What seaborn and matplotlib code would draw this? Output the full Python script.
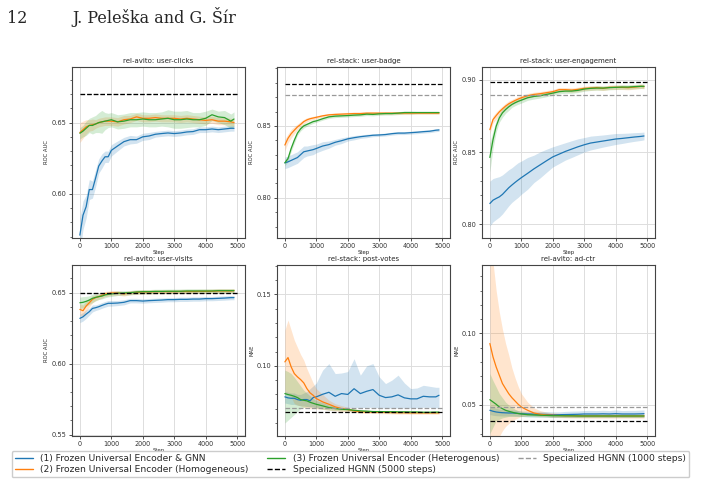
import numpy as np
import pandas as pd
import seaborn as sns
import matplotlib
matplotlib.use("Agg")
import matplotlib.pyplot as plt
from matplotlib.ticker import MultipleLocator, AutoMinorLocator
from matplotlib.lines import Line2D

# ---------------- data ----------------
STEPS = [0, 100, 200, 300, 400, 500, 600, 700, 800, 900, 1000, 1200, 1400, 1600, 1800,
         2000, 2200, 2400, 2600, 2800, 3000, 3200, 3400, 3600, 3800, 4000, 4200, 4400,
         4600, 4800, 4900]

SERIES = ["(1) Frozen Universal Encoder & GNN",
          "(2) Frozen Universal Encoder (Homogeneous)",
          "(3) Frozen Universal Encoder (Heterogenous)"]
REF_LABELS = ["Specialized HGNN (5000 steps)", "Specialized HGNN (1000 steps)"]
TITLES = ["rel-avito: user-clicks", "rel-stack: user-badge", "rel-stack: user-engagement",
          "rel-avito: user-visits", "rel-stack: post-votes", "rel-avito: ad-ctr"]
YLABELS = ["ROC AUC", "ROC AUC", "ROC AUC", "ROC AUC", "MAE", "MAE"]

# reference levels: (5000 steps, 1000 steps)
REF_5000 = [0.670, 0.879, 0.8984, 0.6495, 0.0678, 0.0390]
REF_1000 = [0.670, 0.8715, 0.8898, 0.6495, 0.0708, 0.0484]
YLIMS = [(0.569, 0.689), (0.772, 0.891), (0.7905, 0.909),
         (0.549, 0.6695), (0.0509, 0.1706), (0.0283, 0.1479)]

# rel-avito: user-clicks
clicks_gnn = [0.571, 0.585, 0.591, 0.603, 0.603, 0.611, 0.6195, 0.623, 0.626, 0.626, 0.6305,
              0.6336, 0.6366, 0.638, 0.638, 0.640, 0.6406, 0.6418, 0.6423, 0.6427, 0.6423,
              0.6427, 0.6434, 0.6437, 0.645, 0.645, 0.6455, 0.645, 0.6455, 0.646, 0.646]
clicks_gnn_err = [0.012, 0.010, 0.008, 0.007, 0.006, 0.006, 0.005, 0.005, 0.004, 0.004, 0.004,
                  0.0035, 0.003, 0.003, 0.0025, 0.0025, 0.0025, 0.002, 0.002, 0.002, 0.002,
                  0.002, 0.002, 0.002, 0.002, 0.002, 0.002, 0.002, 0.002, 0.002, 0.002]
clicks_hom = [0.643, 0.645, 0.647, 0.648, 0.6485, 0.649, 0.650, 0.6505, 0.651, 0.651, 0.651,
              0.6505, 0.652, 0.6525, 0.654, 0.653, 0.653, 0.6535, 0.653, 0.653, 0.653,
              0.6525, 0.653, 0.6525, 0.652, 0.6515, 0.652, 0.651, 0.651, 0.6505, 0.650]
clicks_hom_err = [0.007, 0.006, 0.005, 0.004, 0.004, 0.003, 0.003, 0.003, 0.003, 0.003, 0.003,
                  0.003, 0.003, 0.0025, 0.0025, 0.0025, 0.0025, 0.0025, 0.0025, 0.0025, 0.0025,
                  0.0025, 0.0025, 0.0025, 0.0025, 0.0025, 0.0025, 0.0025, 0.0025, 0.0025, 0.0025]
clicks_het = [0.6425, 0.644, 0.646, 0.648, 0.648, 0.649, 0.650, 0.6505, 0.651, 0.6515, 0.652,
              0.6505, 0.651, 0.652, 0.652, 0.6525, 0.652, 0.652, 0.6525, 0.653, 0.652,
              0.652, 0.6525, 0.652, 0.652, 0.653, 0.6555, 0.654, 0.6535, 0.651, 0.6525]
clicks_het_err = [0.004, 0.004, 0.005, 0.005, 0.006, 0.006, 0.007, 0.008, 0.006, 0.005, 0.005,
                  0.005, 0.005, 0.005, 0.005, 0.005, 0.005, 0.005, 0.005, 0.006, 0.006,
                  0.006, 0.006, 0.005, 0.005, 0.005, 0.004, 0.004, 0.005, 0.005, 0.005]

# rel-stack: user-badge
badge_gnn = [0.8243, 0.825, 0.826, 0.827, 0.828, 0.830, 0.832, 0.8325, 0.833, 0.8335, 0.8343,
             0.836, 0.837, 0.8386, 0.8397, 0.841, 0.8418, 0.8425, 0.843, 0.8435, 0.8437,
             0.844, 0.8446, 0.845, 0.845, 0.8453, 0.8456, 0.846, 0.8463, 0.847, 0.8472]
badge_gnn_err = [0.004, 0.004, 0.004, 0.004, 0.004, 0.004, 0.004, 0.0035, 0.0035, 0.0035, 0.003,
                 0.003, 0.0025, 0.002, 0.002, 0.0015, 0.0015, 0.0012, 0.0012, 0.001, 0.001,
                 0.001, 0.001, 0.001, 0.001, 0.001, 0.001, 0.001, 0.001, 0.001, 0.001]
badge_hom = [0.8367, 0.8414, 0.8446, 0.847, 0.8493, 0.851, 0.853, 0.8542, 0.855, 0.8555, 0.856,
             0.857, 0.8577, 0.858, 0.8582, 0.8584, 0.8586, 0.8586, 0.8589, 0.8589, 0.8589,
             0.8589, 0.8589, 0.8589, 0.8589, 0.8589, 0.8589, 0.8589, 0.8589, 0.8589, 0.8589]
badge_hom_err = [0.004, 0.003, 0.003, 0.0025, 0.002, 0.002, 0.0015, 0.0015, 0.0012, 0.0012, 0.001,
                 0.001, 0.001, 0.001, 0.001, 0.001, 0.001, 0.001, 0.001, 0.001, 0.001,
                 0.001, 0.001, 0.001, 0.001, 0.001, 0.0008, 0.0008, 0.0008, 0.0008, 0.0008]
badge_het = [0.8243, 0.8273, 0.8343, 0.840, 0.845, 0.848, 0.850, 0.851, 0.852, 0.853, 0.8535,
             0.855, 0.8563, 0.8568, 0.857, 0.8572, 0.8575, 0.8577, 0.8582, 0.858, 0.8584,
             0.8586, 0.8586, 0.8589, 0.8593, 0.8593, 0.8593, 0.8593, 0.8593, 0.8593, 0.8593]
badge_het_err = [0.002, 0.002, 0.002, 0.002, 0.0015, 0.0015, 0.0015, 0.0012, 0.0012, 0.0012, 0.001,
                 0.001, 0.001, 0.001, 0.001, 0.001, 0.001, 0.001, 0.001, 0.001, 0.001,
                 0.001, 0.001, 0.001, 0.001, 0.001, 0.0008, 0.0008, 0.0008, 0.0008, 0.0008]

# rel-stack: user-engagement
eng_gnn = [0.8144, 0.8167, 0.8179, 0.819, 0.8207, 0.823, 0.8253, 0.8272, 0.829, 0.8307, 0.8323,
           0.8353, 0.8384, 0.8412, 0.844, 0.8467, 0.8486, 0.8505, 0.8521, 0.8537, 0.8551,
           0.8563, 0.857, 0.8577, 0.8584, 0.8591, 0.8595, 0.860, 0.8605, 0.8609, 0.8612]
eng_gnn_err = [0.0155, 0.015, 0.0145, 0.014, 0.0135, 0.013, 0.0125, 0.012, 0.012, 0.012, 0.0115,
               0.011, 0.0095, 0.009, 0.008, 0.007, 0.0065, 0.006, 0.0058, 0.0055, 0.005,
               0.0048, 0.0045, 0.0042, 0.004, 0.0038, 0.0035, 0.0032, 0.003, 0.0028, 0.0027]
eng_hom = [0.8656, 0.8726, 0.8753, 0.8779, 0.880, 0.8819, 0.8835, 0.8847, 0.8858, 0.8868, 0.8877,
           0.8891, 0.890, 0.8905, 0.8912, 0.8919, 0.8933, 0.8933, 0.893, 0.8935, 0.8942,
           0.8944, 0.8947, 0.8942, 0.8949, 0.8949, 0.8949, 0.8947, 0.8951, 0.8956, 0.8954]
eng_hom_err = [0.003, 0.0025, 0.0025, 0.002, 0.002, 0.002, 0.002, 0.0018, 0.0018, 0.0018, 0.0016,
               0.0016, 0.0015, 0.0015, 0.0015, 0.0015, 0.0015, 0.0015, 0.0015, 0.0015, 0.0015,
               0.0015, 0.0015, 0.0015, 0.0015, 0.0015, 0.0015, 0.0015, 0.0015, 0.0015, 0.0015]
eng_het = [0.8463, 0.8586, 0.8679, 0.8737, 0.8772, 0.8795, 0.8814, 0.883, 0.8842, 0.8852, 0.886,
           0.8877, 0.8886, 0.8891, 0.890, 0.8909, 0.8919, 0.8923, 0.8923, 0.8928, 0.8937,
           0.8942, 0.8944, 0.8944, 0.8947, 0.8949, 0.8951, 0.8951, 0.8954, 0.8956, 0.8956]
eng_het_err = [0.010, 0.006, 0.004, 0.003, 0.003, 0.0025, 0.0025, 0.002, 0.002, 0.002, 0.002,
               0.0018, 0.0018, 0.0016, 0.0016, 0.0015, 0.0015, 0.0015, 0.0015, 0.0015, 0.0015,
               0.0015, 0.0015, 0.0015, 0.0015, 0.0015, 0.0015, 0.0015, 0.0015, 0.0015, 0.0015]

# rel-avito: user-visits
visits_gnn = [0.6319, 0.633, 0.6349, 0.6366, 0.6389, 0.6394, 0.6401, 0.641, 0.6418, 0.6425, 0.6425,
              0.6427, 0.6432, 0.6444, 0.6444, 0.6441, 0.6444, 0.6446, 0.6448, 0.6451, 0.6451,
              0.6453, 0.6453, 0.6455, 0.6455, 0.6458, 0.6458, 0.646, 0.6462, 0.6465, 0.6465]
visits_gnn_err = [0.003, 0.003, 0.003, 0.0025, 0.0025, 0.002, 0.002, 0.002, 0.002, 0.002, 0.002,
                  0.0018, 0.0018, 0.0016, 0.0016, 0.0015, 0.0015, 0.0015, 0.0015, 0.0015, 0.0015,
                  0.0015, 0.0015, 0.0015, 0.0015, 0.0015, 0.0015, 0.0015, 0.0015, 0.0015, 0.0015]
visits_hom = [0.6382, 0.6373, 0.6406, 0.6429, 0.6453, 0.6465, 0.6472, 0.6481, 0.6491, 0.6493, 0.6498,
              0.6498, 0.6491, 0.650, 0.6502, 0.6505, 0.6505, 0.6507, 0.6507, 0.6507, 0.6507,
              0.6508, 0.6508, 0.6508, 0.6509, 0.6509, 0.651, 0.6512, 0.6512, 0.6512, 0.6514]
visits_hom_err = [0.004, 0.004, 0.0035, 0.003, 0.0025, 0.002, 0.002, 0.002, 0.0018, 0.0018, 0.0016,
                  0.0016, 0.0015, 0.0015, 0.0015, 0.0015, 0.0015, 0.0015, 0.0015, 0.0015, 0.0015,
                  0.0015, 0.0015, 0.0015, 0.0015, 0.0015, 0.0015, 0.0015, 0.0015, 0.0015, 0.0015]
visits_het = [0.6429, 0.6432, 0.6439, 0.6448, 0.646, 0.6467, 0.6472, 0.6476, 0.6484, 0.6488, 0.6491,
              0.6496, 0.6498, 0.650, 0.6505, 0.6507, 0.6507, 0.6509, 0.6509, 0.651, 0.651,
              0.651, 0.6512, 0.6512, 0.6512, 0.6512, 0.6512, 0.6514, 0.6514, 0.6514, 0.6514]
visits_het_err = [0.004, 0.004, 0.0035, 0.003, 0.003, 0.0025, 0.002, 0.002, 0.002, 0.0018, 0.0018,
                  0.0016, 0.0016, 0.0015, 0.0015, 0.0015, 0.0015, 0.0015, 0.0015, 0.0015, 0.0015,
                  0.0015, 0.0015, 0.0015, 0.0015, 0.0015, 0.0015, 0.0015, 0.0015, 0.0015, 0.0015]

# rel-stack: post-votes (asymmetric bands)
votes_gnn = [0.0783, 0.0776, 0.0773, 0.0773, 0.0764, 0.0759, 0.0764, 0.0764, 0.0755, 0.0778, 0.0783,
             0.0801, 0.0815, 0.0787, 0.0806, 0.0800, 0.0840, 0.0806, 0.0822, 0.0834, 0.0794,
             0.0778, 0.0783, 0.0797, 0.0776, 0.0769, 0.0769, 0.0787, 0.0783, 0.0783, 0.0794]
votes_gnn_lo = [0.074, 0.0735, 0.073, 0.073, 0.0725, 0.072, 0.072, 0.0715, 0.071, 0.071, 0.071,
                0.071, 0.071, 0.0705, 0.0705, 0.0705, 0.071, 0.0705, 0.071, 0.071, 0.0705,
                0.0705, 0.0705, 0.0705, 0.0705, 0.0705, 0.0705, 0.071, 0.071, 0.0705, 0.071]
votes_gnn_hi = [0.082, 0.0815, 0.081, 0.081, 0.080, 0.080, 0.081, 0.082, 0.084, 0.086, 0.088,
                0.097, 0.1016, 0.0946, 0.095, 0.096, 0.105, 0.0935, 0.100, 0.1016, 0.0923,
                0.0876, 0.090, 0.0935, 0.088, 0.0841, 0.0845, 0.0864, 0.0857, 0.085, 0.085]
votes_hom = [0.1028, 0.1058, 0.0993, 0.0946, 0.0923, 0.0904, 0.0881, 0.0841, 0.0811, 0.0794, 0.0771,
             0.0748, 0.0731, 0.0713, 0.0701, 0.0694, 0.0685, 0.0678, 0.0677, 0.0676, 0.0675,
             0.0674, 0.0673, 0.0672, 0.0672, 0.0671, 0.0671, 0.0671, 0.0671, 0.0671, 0.0671]
votes_hom_lo = [0.0806, 0.0800, 0.0780, 0.0736, 0.0725, 0.0720, 0.0710, 0.0705, 0.0700, 0.0700, 0.0700,
                0.0695, 0.069, 0.0685, 0.068, 0.068, 0.0675, 0.067, 0.0668, 0.0667, 0.0666,
                0.0665, 0.0664, 0.0663, 0.0663, 0.0662, 0.0662, 0.0662, 0.0662, 0.0662, 0.0662]
votes_hom_hi = [0.125, 0.132, 0.125, 0.118, 0.113, 0.108, 0.104, 0.098, 0.093, 0.088, 0.084,
                0.080, 0.076, 0.0735, 0.0722, 0.071, 0.070, 0.0688, 0.0686, 0.0685, 0.0684,
                0.0683, 0.0682, 0.0681, 0.0681, 0.068, 0.068, 0.068, 0.068, 0.068, 0.068]
votes_het = [0.0806, 0.0799, 0.0794, 0.0787, 0.0778, 0.0764, 0.0759, 0.0755, 0.0745, 0.0738, 0.0731,
             0.072, 0.0708, 0.0701, 0.0696, 0.0694, 0.0689, 0.0685, 0.0683, 0.068, 0.068,
             0.0679, 0.0679, 0.0678, 0.0678, 0.0677, 0.0677, 0.0675, 0.0675, 0.0676, 0.0676]
votes_het_lo = [0.060, 0.062, 0.064, 0.066, 0.068, 0.070, 0.071, 0.0715, 0.0715, 0.0712, 0.0705,
                0.0697, 0.069, 0.0688, 0.0685, 0.0684, 0.068, 0.0677, 0.0676, 0.0673, 0.0673,
                0.0672, 0.0671, 0.067, 0.067, 0.0669, 0.0669, 0.0667, 0.0667, 0.0668, 0.0668]
votes_het_hi = [0.097, 0.096, 0.0946, 0.092, 0.089, 0.086, 0.083, 0.081, 0.079, 0.077, 0.0757,
                0.0743, 0.0726, 0.0714, 0.0707, 0.0704, 0.0698, 0.0693, 0.069, 0.0687, 0.0687,
                0.0686, 0.0686, 0.0685, 0.0685, 0.0685, 0.0685, 0.0683, 0.0683, 0.0684, 0.0684]

# rel-avito: ad-ctr (asymmetric bands)
ctr_gnn = [0.0463, 0.0456, 0.0451, 0.0448, 0.0446, 0.0445, 0.0444, 0.0444, 0.0443, 0.0441, 0.0439,
           0.0437, 0.0436, 0.0435, 0.0434, 0.0432, 0.0432, 0.0433, 0.0434, 0.0435, 0.0437,
           0.0437, 0.0437, 0.0438, 0.0437, 0.0439, 0.0437, 0.0437, 0.0437, 0.0438, 0.0439]
ctr_gnn_lo = [0.0433, 0.0428, 0.0425, 0.0424, 0.0423, 0.0423, 0.0423, 0.0423, 0.0422, 0.0421, 0.0419,
              0.0417, 0.0416, 0.0415, 0.0414, 0.0412, 0.0412, 0.0413, 0.0413, 0.0413, 0.0414,
              0.0414, 0.0414, 0.0414, 0.0413, 0.0414, 0.0413, 0.0413, 0.0413, 0.0413, 0.0414]
ctr_gnn_hi = [0.0493, 0.0484, 0.0477, 0.0472, 0.0469, 0.0467, 0.0465, 0.0465, 0.0464, 0.0461, 0.0459,
              0.0457, 0.0456, 0.0455, 0.0454, 0.0452, 0.0452, 0.0455, 0.0457, 0.0458, 0.0461,
              0.0462, 0.0461, 0.0463, 0.0461, 0.0465, 0.0461, 0.0462, 0.0462, 0.0464, 0.0465]
ctr_hom = [0.093, 0.0836, 0.0766, 0.0708, 0.065, 0.0614, 0.0579, 0.0551, 0.0528, 0.0505, 0.0486,
           0.0463, 0.0444, 0.0435, 0.043, 0.0428, 0.0426, 0.0425, 0.0424, 0.0424, 0.0423,
           0.0423, 0.0423, 0.0423, 0.0423, 0.0423, 0.0423, 0.0423, 0.0423, 0.0423, 0.0423]
ctr_hom_lo = [0.012, 0.018, 0.023, 0.028, 0.032, 0.035, 0.037, 0.039, 0.040, 0.041, 0.042,
              0.0425, 0.0425, 0.042, 0.0418, 0.0414, 0.0412, 0.041, 0.0409, 0.0409, 0.0408,
              0.0408, 0.0408, 0.0408, 0.0408, 0.0408, 0.0408, 0.0408, 0.0408, 0.0408, 0.0408]
ctr_hom_hi = [0.175, 0.150, 0.130, 0.115, 0.103, 0.093, 0.085, 0.076, 0.069, 0.063, 0.058,
              0.052, 0.048, 0.046, 0.045, 0.0445, 0.0442, 0.044, 0.0439, 0.0439, 0.0438,
              0.0438, 0.0438, 0.0438, 0.0438, 0.0438, 0.0438, 0.0438, 0.0438, 0.0438, 0.0438]
ctr_het = [0.0537, 0.0521, 0.0505, 0.0486, 0.0474, 0.0463, 0.0456, 0.0450, 0.0444, 0.0440, 0.0437,
           0.0432, 0.043, 0.0428, 0.0427, 0.0425, 0.0425, 0.0424, 0.0424, 0.0423, 0.0423,
           0.0423, 0.0423, 0.0423, 0.0423, 0.0423, 0.0423, 0.0423, 0.0423, 0.0423, 0.0423]
ctr_het_lo = [0.030, 0.0345, 0.039, 0.040, 0.041, 0.0415, 0.042, 0.042, 0.042, 0.042, 0.042,
              0.0418, 0.0417, 0.0416, 0.0416, 0.0414, 0.0415, 0.0414, 0.0414, 0.0413, 0.0413,
              0.0413, 0.0413, 0.0413, 0.0413, 0.0413, 0.0413, 0.0413, 0.0413, 0.0413, 0.0413]
ctr_het_hi = [0.072, 0.067, 0.0626, 0.058, 0.055, 0.052, 0.050, 0.0485, 0.047, 0.046, 0.0455,
              0.0448, 0.0443, 0.044, 0.0438, 0.0436, 0.0435, 0.0434, 0.0434, 0.0433, 0.0433,
              0.0433, 0.0433, 0.0433, 0.0433, 0.0433, 0.0433, 0.0433, 0.0433, 0.0433, 0.0433]

COLORS = ["#1f77b4", "#ff7f0e", "#2ca02c"]


def sym(mean, err):
    return mean, [m - e for m, e in zip(mean, err)], [m + e for m, e in zip(mean, err)]


PANELS = [
    [sym(clicks_gnn, clicks_gnn_err), sym(clicks_hom, clicks_hom_err), sym(clicks_het, clicks_het_err)],
    [sym(badge_gnn, badge_gnn_err), sym(badge_hom, badge_hom_err), sym(badge_het, badge_het_err)],
    [sym(eng_gnn, eng_gnn_err), sym(eng_hom, eng_hom_err), sym(eng_het, eng_het_err)],
    [sym(visits_gnn, visits_gnn_err), sym(visits_hom, visits_hom_err), sym(visits_het, visits_het_err)],
    [(votes_gnn, votes_gnn_lo, votes_gnn_hi), (votes_hom, votes_hom_lo, votes_hom_hi),
     (votes_het, votes_het_lo, votes_het_hi)],
    [(ctr_gnn, ctr_gnn_lo, ctr_gnn_hi), (ctr_hom, ctr_hom_lo, ctr_hom_hi),
     (ctr_het, ctr_het_lo, ctr_het_hi)],
]


def long_df(panel):
    rows = []
    for name, (mean, lo, hi) in zip(SERIES, panel):
        for s, m, l, h in zip(STEPS, mean, lo, hi):
            rows += [(s, l, name), (s, m, name), (s, h, name)]
    return pd.DataFrame(rows, columns=["step", "value", "series"])


# ---------------- style ----------------
sns.set_theme(style="whitegrid")
plt.rcParams.update({
    "font.family": ["DejaVu Sans"],
    "axes.edgecolor": "#444444",
    "axes.linewidth": 0.8,
    "grid.color": "#dddddd",
    "grid.linewidth": 0.7,
    "xtick.bottom": True,
    "ytick.left": True,
    "xtick.color": "#333333",
    "ytick.color": "#333333",
    "xtick.major.size": 2.2,
    "ytick.major.size": 2.2,
    "ytick.minor.size": 1.3,
    "xtick.major.width": 0.6,
    "ytick.major.width": 0.6,
    "ytick.minor.width": 0.5,
    "xtick.major.pad": 1.5,
    "ytick.major.pad": 1.5,
})

fig = plt.figure(figsize=(7.01, 4.84), dpi=100)

lefts = [72 / 701, 277 / 701, 482 / 701]
bottoms = [1 - 238 / 484, 1 - 436 / 484]
W = 173 / 701
H = 171 / 484

palette = dict(zip(SERIES, COLORS))

for i, panel in enumerate(PANELS):
    r, c = divmod(i, 3)
    ax = fig.add_axes([lefts[c], bottoms[r], W, H])
    df = long_df(panel)
    ax.hlines(REF_1000[i], 0, 5000, colors="#999999", linestyles="--", linewidth=0.9, zorder=3)
    ax.hlines(REF_5000[i], 0, 5000, colors="black", linestyles="--", linewidth=0.9, zorder=3)
    sns.lineplot(data=df, x="step", y="value", hue="series", palette=palette,
                 estimator="median", errorbar=("pi", 100), linewidth=0.9,
                 err_kws={"alpha": 0.2, "linewidth": 0}, legend=False, ax=ax)
    ax.set_xlim(-250, 5250)
    ax.set_ylim(*YLIMS[i])
    ax.xaxis.set_major_locator(MultipleLocator(1000))
    ax.yaxis.set_major_locator(MultipleLocator(0.05))
    ax.yaxis.set_minor_locator(AutoMinorLocator())
    ax.tick_params(axis="x", labelsize=4.7)
    ax.tick_params(axis="y", labelsize=4.8)
    ax.set_title(TITLES[i], fontsize=5, pad=3)
    ax.set_xlabel("Step", fontsize=3.8, labelpad=0.5)
    ax.set_ylabel(YLABELS[i], fontsize=3.8, labelpad=2)
    for sp in ax.spines.values():
        sp.set_visible(True)
        sp.set_color("#444444")
        sp.set_linewidth(0.8)

handles = [Line2D([], [], color=COLORS[0], lw=1),
           Line2D([], [], color=COLORS[1], lw=1),
           Line2D([], [], color=COLORS[2], lw=1),
           Line2D([], [], color="black", lw=1, ls="--"),
           Line2D([], [], color="#999999", lw=1, ls="--")]
labels = [SERIES[0], SERIES[1], SERIES[2], REF_LABELS[0], REF_LABELS[1]]
fig.legend(handles, labels, loc="lower center", bbox_to_anchor=(0.5, 0.004), ncol=3,
           fontsize=6.6, frameon=True, framealpha=1.0, edgecolor="#cccccc",
           borderpad=0.35, labelspacing=0.25, handlelength=2.0, columnspacing=2.0,
           handletextpad=0.8)

fig.text(7 / 701, 1 - 23 / 484, "12", fontsize=11.5, family="DejaVu Serif")
fig.text(72 / 701, 1 - 23 / 484, "J. Peleška and G. Šír", fontsize=11.5, family="DejaVu Serif")

fig.savefig("out.png", dpi=100, facecolor="white")
